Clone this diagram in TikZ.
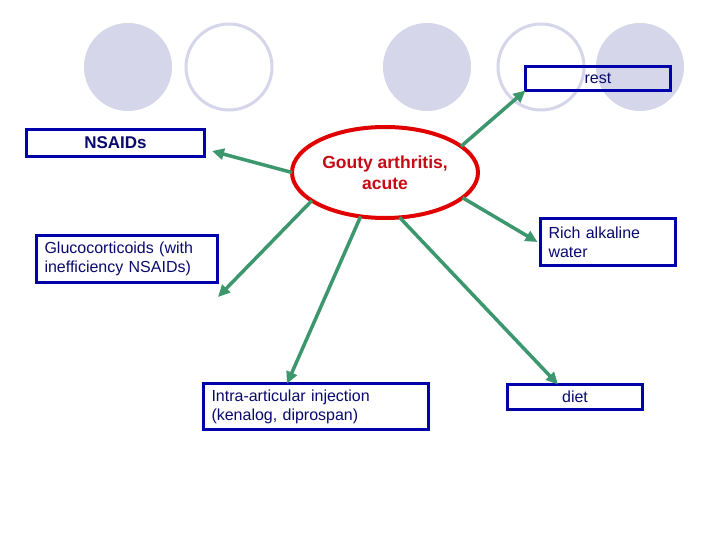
\documentclass[tikz,border=0pt]{standalone}
\usepackage{fontspec}
\setmainfont{Liberation Sans}
\usetikzlibrary{shapes.geometric,arrows.meta}
\definecolor{lav}{RGB}{214,214,235}
\definecolor{boxblue}{RGB}{0,0,170}
\definecolor{navytext}{RGB}{10,10,110}
\definecolor{arrgreen}{RGB}{60,150,110}
\definecolor{ellred}{RGB}{225,0,0}
\definecolor{txtred}{RGB}{200,10,20}
\begin{document}
\begin{tikzpicture}[x=1pt,y=-1pt,
 bx/.style={draw=boxblue, line width=3pt, inner sep=0pt, outer sep=0pt, text=navytext, font=\fontsize{16}{19}\selectfont},
 txtbox/.style={bx, align=left, inner xsep=8pt},
 conn/.style={draw=arrgreen, line width=3.5pt, -{Triangle[length=12pt,width=11pt]}},
 fcirc/.style={circle, fill=lav, minimum size=88pt, inner sep=0pt},
 ocirc/.style={circle, draw=lav, line width=3pt, minimum size=86pt, inner sep=0pt}]
\useasboundingbox[fill=white] (0,0) rectangle (720,540);
% decorative circles
\node[fcirc] (c1) at (128,67) {};
\node[ocirc] (c2) at (229,67) {};
\node[fcirc] (c3) at (427,67) {};
\node[ocirc] (c4) at (541,67) {};
\node[fcirc] (c5) at (640,67) {};
% central node
\node[ellipse, draw=ellred, line width=4pt, minimum width=186pt, minimum height=91pt, inner sep=0pt, outer sep=0pt, align=center, text=txtred, font=\bfseries\fontsize{17.5}{21}\selectfont] (ell) at (385,172.5) {Gouty arthritis,\\acute};
% boxes
\node[bx, minimum width=145pt, minimum height=24pt] (rest) at (598,78.5) {rest};
\node[bx, minimum width=178pt, minimum height=27pt, font=\bfseries\fontsize{17}{20}\selectfont] (nsaids) at (115.5,143) {NSAIDs};
\node[txtbox, text width=165pt, minimum height=46.5pt] (gluco) at (127,259) {Glucocorticoids (with\\inefficiency NSAIDs)};
\node[txtbox, text width=119pt, minimum height=46.5pt] (rich) at (608,242) {Rich alkaline\\water};
\node[txtbox, text width=209pt, minimum height=45.5pt] (intra) at (316,406.5) {Intra-articular injection\\(kenalog, diprospan)};
\node[bx, minimum width=135pt, minimum height=25pt] (diet) at (575,397) {diet};
% free connector ends
\coordinate (nsend) at (212,151);
\coordinate (glend) at (218,297);
% connectors
\draw[conn] (ell.19) -- (rest.south west);
\draw[conn] (ell.180) -- (nsend);
\draw[conn] (ell.201) -- (glend);
\draw[conn] (ell.241) -- ([xshift=-29pt]intra.north);
\draw[conn] (ell.-18) -- ([xshift=-3pt]rich.west);
\draw[conn] (ell.-72) -- ([xshift=-17pt]diet.north);
\end{tikzpicture}
\end{document}
